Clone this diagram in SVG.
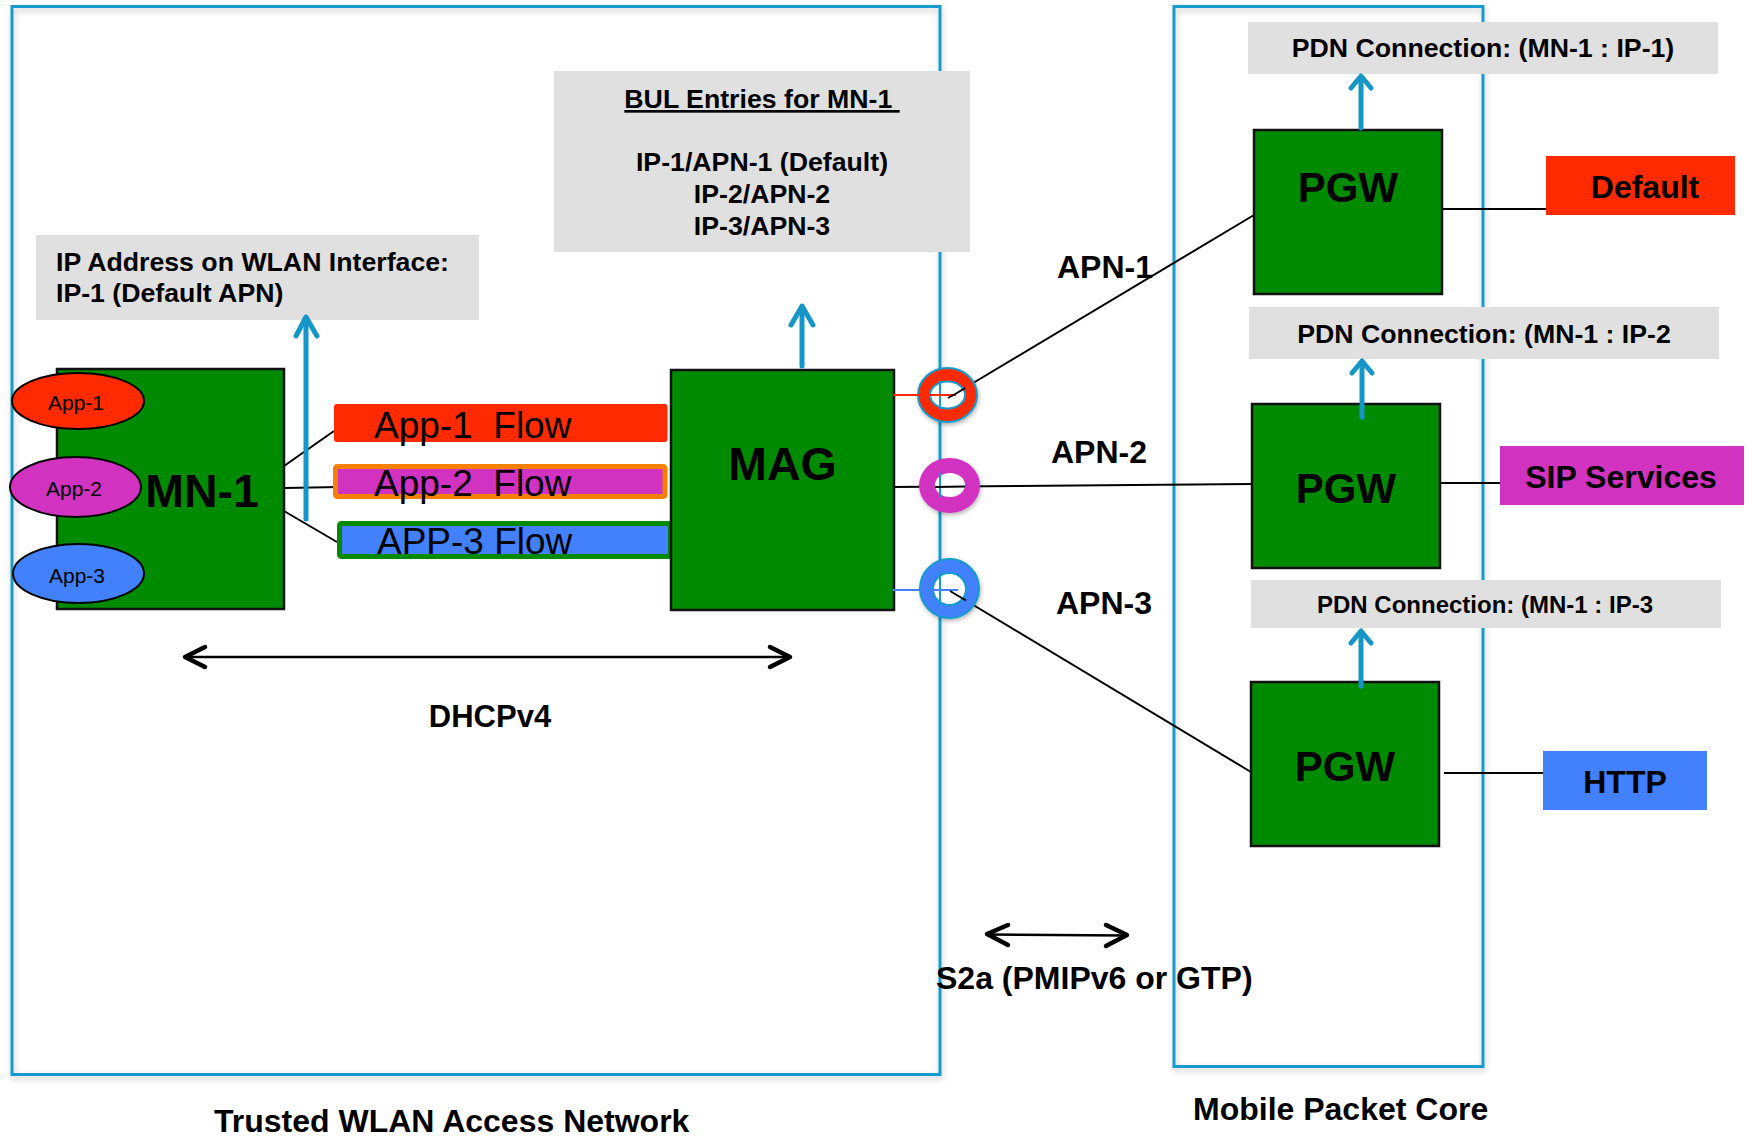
<svg xmlns="http://www.w3.org/2000/svg" width="1752" height="1137" viewBox="0 0 1752 1137">
  <defs>
    <filter id="soft" x="-5%" y="-5%" width="110%" height="110%">
      <feDropShadow dx="1" dy="3" stdDeviation="3" flood-color="#000" flood-opacity="0.22"/>
    </filter>
    <filter id="ringShadow" x="-30%" y="-30%" width="160%" height="160%">
      <feDropShadow dx="1" dy="2" stdDeviation="2" flood-color="#000" flood-opacity="0.3"/>
    </filter>
  </defs>
  <style>
    .zone { fill: none; stroke: #129bcc; stroke-width: 3; }
    .node { fill: #008a00; stroke: #111; stroke-width: 2.5; }
    .note { fill: #e0e0e0; }
    .wire { stroke: #000; stroke-width: 2; fill: none; }
    .up { stroke: #1596c6; stroke-width: 5; fill: none; stroke-linecap: round; stroke-linejoin: round; }
    .dbl { stroke: #000; stroke-width: 2.5; fill: none; }
    .head { stroke: #000; stroke-width: 4.5; fill: none; stroke-linecap: round; stroke-linejoin: round; }
    text { font-family: "Liberation Sans", Arial, Helvetica, sans-serif; fill: #000; }
    .b { font-weight: bold; }
    .mid { text-anchor: middle; }
    .app { font-size: 21px; }
    .flow { font-size: 37px; }
    .big { font-size: 46.5px; font-weight: bold; }
    .pgw { font-size: 42px; font-weight: bold; text-anchor: middle; }
    .lbl { font-size: 32px; font-weight: bold; }
    .note-t { font-size: 26.7px; font-weight: bold; }
  </style>

  <!-- network domains -->
  <g id="trusted-wlan">
    <rect class="zone" x="12" y="6.5" width="928" height="1068" filter="url(#soft)"/>
  </g>
  <g id="mobile-core">
    <rect class="zone" x="1174" y="6.5" width="309" height="1060" filter="url(#soft)"/>
  </g>

  <!-- connectors -->
  <g id="connectors">
    <!-- MN-1 to flows -->
    <line class="wire" x1="284" y1="466" x2="334" y2="431"/>
    <line class="wire" x1="284" y1="488" x2="340" y2="487"/>
    <line class="wire" x1="284" y1="511" x2="337" y2="542"/>
    <!-- MAG / rings to PGWs -->
    <line class="wire" x1="948" y1="398" x2="1254" y2="215"/>
    <line class="wire" x1="893" y1="487" x2="1252" y2="484"/>
    <line class="wire" x1="950" y1="591" x2="1251" y2="772"/>
    <!-- PGWs to services -->
    <line class="wire" x1="1442" y1="209" x2="1547" y2="209"/>
    <line class="wire" x1="1440" y1="483" x2="1500" y2="483"/>
    <line class="wire" x1="1444" y1="773" x2="1543" y2="773"/>
    <!-- DHCPv4 -->
    <line class="dbl" x1="186" y1="657" x2="790" y2="657"/>
    <polyline class="head" points="205,647 185,657 205,667"/>
    <polyline class="head" points="770,647 790,657 770,667"/>
    <!-- S2a -->
    <line class="dbl" x1="988" y1="934.5" x2="1125" y2="935.5"/>
    <polyline class="head" points="1008,925 987,934 1008,945"/>
    <polyline class="head" points="1106,925 1127,935 1106,946"/>
  </g>

  <!-- note boxes -->
  <g id="wlan-address">
    <rect class="note" x="36" y="235" width="443" height="85"/>
    <text class="note-t" x="56" y="271">IP Address on WLAN Interface:</text>
    <text class="note-t" x="56" y="302">IP-1 (Default APN)</text>
  </g>
  <g id="bul-entries">
    <rect class="note" x="554" y="71" width="416" height="181"/>
    <text class="note-t mid" x="762" y="108" xml:space="preserve" text-decoration="underline">BUL Entries for MN-1 </text>
    <text class="note-t mid" x="762" y="171">IP-1/APN-1 (Default)</text>
    <text class="note-t mid" x="762" y="203">IP-2/APN-2</text>
    <text class="note-t mid" x="762" y="235">IP-3/APN-3</text>
  </g>
  <g id="pdn-1">
    <rect class="note" x="1248" y="22" width="470" height="52"/>
    <text class="note-t mid" x="1483" y="57">PDN Connection: (MN-1 : IP-1)</text>
  </g>
  <g id="pdn-2">
    <rect class="note" x="1249" y="307" width="470" height="52"/>
    <text class="note-t mid" x="1484" y="343">PDN Connection: (MN-1 : IP-2</text>
  </g>
  <g id="pdn-3">
    <rect class="note" x="1251" y="580" width="470" height="48"/>
    <text class="note-t mid" x="1485" y="613" style="font-size:24px">PDN Connection: (MN-1 : IP-3</text>
  </g>

  <!-- mobile node with its applications -->
  <g id="mn-1">
    <rect class="node" x="57" y="369" width="227" height="240"/>
    <text class="big mid" x="202" y="507">MN-1</text>
  </g>
  <g id="app-1">
    <ellipse cx="78" cy="401" rx="66" ry="28" fill="#ff2a00" stroke="#000" stroke-width="2"/>
    <text class="app mid" x="76" y="410">App-1</text>
  </g>
  <g id="app-2">
    <ellipse cx="75.5" cy="487" rx="65.5" ry="30" fill="#d132c0" stroke="#000" stroke-width="2"/>
    <text class="app mid" x="74" y="496">App-2</text>
  </g>
  <g id="app-3">
    <ellipse cx="78.5" cy="573.5" rx="65.5" ry="29.5" fill="#4281fb" stroke="#000" stroke-width="2"/>
    <text class="app mid" x="77" y="583">App-3</text>
  </g>

  <!-- per-application flows -->
  <g id="flow-1">
    <rect x="334" y="404" width="333.5" height="38" rx="3" fill="#ff2a00"/>
    <text class="flow" x="374" y="438" xml:space="preserve">App-1  Flow</text>
  </g>
  <g id="flow-2">
    <rect x="335.5" y="466.5" width="329.5" height="30" rx="2" fill="#d132c0" stroke="#f58000" stroke-width="5"/>
    <text class="flow" x="374" y="496" xml:space="preserve">App-2  Flow</text>
  </g>
  <g id="flow-3">
    <rect x="339.5" y="523.5" width="331" height="33" rx="2" fill="#4281fb" stroke="#008a00" stroke-width="5"/>
    <text class="flow" x="377" y="554">APP-3 Flow</text>
  </g>

  <!-- access gateway -->
  <g id="mag">
    <rect class="node" x="671" y="370" width="223" height="240"/>
    <text class="big mid" x="782.5" y="480">MAG</text>
  </g>

  <!-- packet gateways -->
  <g id="pgw-1">
    <rect class="node" x="1254" y="130" width="188" height="164"/>
    <text class="pgw" x="1348" y="202">PGW</text>
  </g>
  <g id="pgw-2">
    <rect class="node" x="1252" y="404" width="188" height="164"/>
    <text class="pgw" x="1346" y="503">PGW</text>
  </g>
  <g id="pgw-3">
    <rect class="node" x="1251" y="682" width="188" height="164"/>
    <text class="pgw" x="1345" y="781">PGW</text>
  </g>

  <!-- services -->
  <g id="svc-default">
    <rect x="1546" y="156" width="189" height="59" fill="#ff2a00"/>
    <text class="lbl mid" x="1645" y="198">Default</text>
  </g>
  <g id="svc-sip">
    <rect x="1500" y="446" width="244" height="59" fill="#d132c0"/>
    <text class="lbl mid" x="1621" y="488">SIP Services</text>
  </g>
  <g id="svc-http">
    <rect x="1543" y="751" width="164" height="59" fill="#4281fb"/>
    <text class="lbl mid" x="1625" y="793">HTTP</text>
  </g>

  <!-- tunnel end points on the access side -->
  <g id="tunnel-1">
    <ellipse cx="947.5" cy="395" rx="29.5" ry="27" fill="#ff2a00" stroke="#129bcc" stroke-width="2" filter="url(#ringShadow)"/>
    <ellipse cx="947.5" cy="395" rx="17.5" ry="13.5" fill="#fff" stroke="#129bcc" stroke-width="2"/>
    <line x1="940" y1="381" x2="940" y2="409" stroke="#129bcc" stroke-width="2"/>
    <line x1="893" y1="395" x2="956" y2="395" stroke="#ff2a00" stroke-width="2"/>
    <polyline points="948,398 957,393 965,388" fill="none" stroke="#000" stroke-width="2"/>
  </g>
  <g id="tunnel-2">
    <ellipse cx="949.5" cy="485.5" rx="30.5" ry="27.5" fill="#d132c0" filter="url(#ringShadow)"/>
    <ellipse cx="950" cy="485" rx="15" ry="12" fill="#fff"/>
    <line x1="940" y1="473" x2="940" y2="497" stroke="#129bcc" stroke-width="2"/>
    <line x1="935" y1="487" x2="965" y2="486.5" stroke="#000" stroke-width="2"/>
  </g>
  <g id="tunnel-3">
    <ellipse cx="949.5" cy="588.5" rx="29.5" ry="29.5" fill="#4281fb" stroke="#129bcc" stroke-width="2" filter="url(#ringShadow)"/>
    <ellipse cx="949.5" cy="589" rx="16.5" ry="16" fill="#fff" stroke="#129bcc" stroke-width="2"/>
    <line x1="940" y1="573" x2="940" y2="605" stroke="#129bcc" stroke-width="2"/>
    <line x1="893" y1="590" x2="958" y2="590" stroke="#4281fb" stroke-width="2"/>
    <line x1="950" y1="591" x2="966" y2="600.5" stroke="#000" stroke-width="2"/>
  </g>

  <!-- upward state arrows -->
  <g id="state-arrows">
    <line class="up" x1="306" y1="519" x2="306" y2="318"/>
    <polyline class="up" points="296,336 306,317 317,336"/>
    <line class="up" x1="802" y1="366" x2="802" y2="307"/>
    <polyline class="up" points="791,325 802,306 813,325"/>
    <line class="up" x1="1361" y1="128" x2="1361" y2="77"/>
    <polyline class="up" points="1351,88 1361,76 1371,88"/>
    <line class="up" x1="1362" y1="417" x2="1362" y2="362"/>
    <polyline class="up" points="1352,373 1362,361 1372,373"/>
    <line class="up" x1="1361" y1="686" x2="1361" y2="632"/>
    <polyline class="up" points="1351,643 1361,631 1371,643"/>
  </g>

  <!-- labels -->
  <g id="labels">
    <text class="lbl" x="1057" y="278">APN-1</text>
    <text class="lbl" x="1051" y="463">APN-2</text>
    <text class="lbl" x="1056" y="614">APN-3</text>
    <text class="lbl mid" x="490" y="727" style="font-size:31px">DHCPv4</text>
    <text class="lbl" x="936" y="989">S2a (PMIPv6 or GTP)</text>
    <text class="lbl" x="214" y="1132">Trusted WLAN Access Network</text>
    <text class="lbl" x="1193" y="1120">Mobile Packet Core</text>
  </g>
</svg>
